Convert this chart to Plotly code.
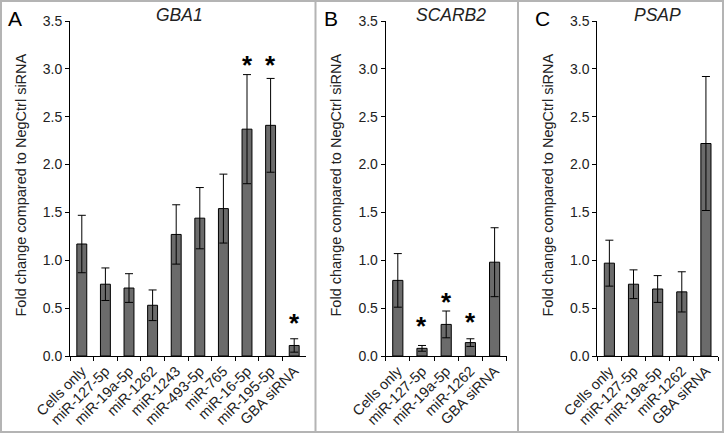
import plotly.graph_objects as go

W, H = 724, 433

# ---- data ----
cats_a = ["Cells only", "miR-127-5p", "miR-19a-5p", "miR-1262", "miR-1243",
          "miR-493-5p", "miR-765", "miR-16-5p", "miR-195-5p", "GBA siRNA"]
vals_a = [1.17, 0.75, 0.71, 0.53, 1.27, 1.44, 1.54, 2.37, 2.41, 0.11]
errs_a = [0.30, 0.17, 0.15, 0.16, 0.31, 0.32, 0.36, 0.57, 0.49, 0.07]
stars_a = {"miR-16-5p": 3.075, "miR-195-5p": 3.075, "GBA siRNA": 0.376}

cats_b = ["Cells only", "miR-127-5p", "miR-19a-5p", "miR-1262", "GBA siRNA"]
vals_b = [0.79, 0.08, 0.33, 0.14, 0.98]
errs_b = [0.28, 0.03, 0.14, 0.04, 0.36]
stars_b = {"miR-127-5p": 0.342, "miR-19a-5p": 0.592, "miR-1262": 0.387}

cats_c = ["Cells only", "miR-127-5p", "miR-19a-5p", "miR-1262", "GBA siRNA"]
vals_c = [0.97, 0.75, 0.70, 0.67, 2.22]
errs_c = [0.24, 0.15, 0.14, 0.21, 0.70]
stars_c = {}

titles = ["GBA1", "SCARB2", "PSAP"]
letters = ["A", "B", "C"]
ytitle = "Fold change compared to NegCtrl siRNA"
yticks = [0.0, 0.5, 1.0, 1.5, 2.0, 2.5, 3.0, 3.5]

# ---- layout geometry (pixels) ----
def fx(px):
    return px / W

def fy(py):
    return 1 - py / H

x_spans = [(70, 306), (385.7, 506.7), (597.3, 718)]
y_top, y_bot = 21, 356
ylabel_x = [20, 335, 547]
letter_x = [15, 331, 542.5]
title_x = [179.5, 450.8, 657]

FONT = "Liberation Sans, Arial, sans-serif"
TXT = "#222222"

fig = go.Figure()
panels = [(cats_a, vals_a, errs_a, stars_a),
          (cats_b, vals_b, errs_b, stars_b),
          (cats_c, vals_c, errs_c, stars_c)]

annotations = []
for i, (cats, vals, errs, stars) in enumerate(panels):
    sfx = "" if i == 0 else str(i + 1)
    fig.add_trace(go.Bar(
        x=cats, y=vals,
        error_y=dict(type="data", array=errs, color="black", thickness=1, width=4),
        marker=dict(color="#6b6b6b", line=dict(color="black", width=1)),
        width=0.42, xaxis="x" + sfx, yaxis="y" + sfx, showlegend=False,
        hoverinfo="skip",
    ))
    x0, x1 = x_spans[i]
    fig.update_layout(**{
        "xaxis" + sfx: dict(
            domain=[fx(x0), fx(x1)], anchor="y" + sfx, type="category",
            showline=True, linecolor="black", linewidth=1,
            ticks="outside", tickson="boundaries", ticklen=4, tickcolor="black",
            tickangle=-45, tickfont=dict(family=FONT, size=14.5, color=TXT),
            showgrid=False, zeroline=False, automargin=False,
        ),
        "yaxis" + sfx: dict(
            domain=[fy(y_bot), fy(y_top)], anchor="x" + sfx, range=[0, 3.5],
            tickvals=yticks, ticktext=[f"{v:.1f}" for v in yticks],
            showline=True, linecolor="black", linewidth=1,
            ticks="outside", ticklen=4, tickcolor="black",
            tickfont=dict(family=FONT, size=14, color=TXT),
            showgrid=False, zeroline=False, automargin=False,
        ),
    })
    # y title
    annotations.append(dict(
        x=fx(ylabel_x[i]), y=fy((y_top + y_bot) / 2 - 3), xref="paper", yref="paper",
        text=ytitle, textangle=-90, showarrow=False,
        font=dict(family=FONT, size=14.5, color=TXT), xanchor="center", yanchor="middle",
    ))
    # panel title
    annotations.append(dict(
        x=fx(title_x[i]), y=fy(15), xref="paper", yref="paper",
        text="<i>" + titles[i] + "</i>", showarrow=False,
        font=dict(family=FONT, size=17.5, color=TXT), xanchor="center", yanchor="middle",
    ))
    # panel letter
    annotations.append(dict(
        x=fx(letter_x[i]), y=fy(18.5), xref="paper", yref="paper",
        text=letters[i], showarrow=False,
        font=dict(family=FONT, size=21, color="black"), xanchor="center", yanchor="middle",
    ))
    # significance stars
    for c, sy in stars.items():
        annotations.append(dict(
            x=c, y=sy, xref="x" + sfx, yref="y" + sfx, text="<b>*</b>", showarrow=False,
            font=dict(family=FONT, size=26, color="black"),
            xanchor="center", yanchor="middle", yshift=-3,
        ))

shapes = [
    dict(type="rect", xref="paper", yref="paper", x0=fx(1), x1=fx(W - 1), y0=fy(H - 1), y1=fy(1),
         line=dict(color="#b4b4b4", width=2)),
    dict(type="line", xref="paper", yref="paper", x0=fx(315.5), x1=fx(315.5), y0=0, y1=1,
         line=dict(color="#b4b4b4", width=2)),
    dict(type="line", xref="paper", yref="paper", x0=fx(518), x1=fx(518), y0=0, y1=1,
         line=dict(color="#b4b4b4", width=2)),
]

fig.update_layout(
    width=W, height=H, margin=dict(l=0, r=0, t=0, b=0),
    paper_bgcolor="white", plot_bgcolor="white",
    annotations=annotations, shapes=shapes,
    font=dict(family=FONT, color=TXT),
)

fig.write_html("out.html", config={"displayModeBar": False},
               post_script="document.body.style.margin='0';document.body.style.overflow='hidden';")
